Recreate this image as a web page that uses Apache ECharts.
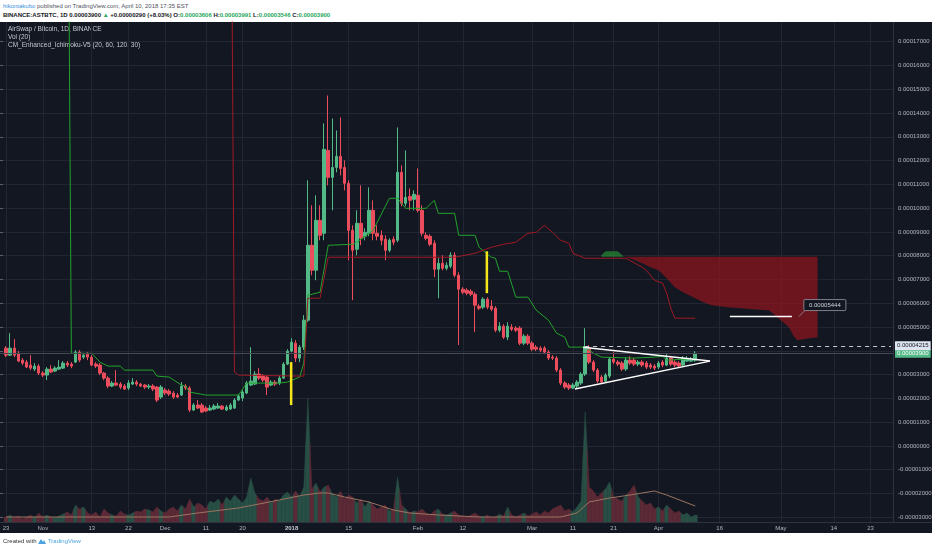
<!DOCTYPE html>
<html>
<head>
<meta charset="utf-8">
<script src="https://cdn.jsdelivr.net/npm/echarts@6/dist/echarts.min.js"></script>
<style>
  html, body { margin:0; padding:0; width:932px; height:550px; background:#ffffff; overflow:hidden; font-family:"Liberation Sans", Arial, sans-serif; }
  .hdr { position:absolute; left:3px; white-space:nowrap; font-size:6px; line-height:8px; }
  #h1 { top:2px; color:#50535e; }
  #h2 { top:11px; color:#131722; font-weight:bold; }
  .g { color:#26a65b; }
  #pane { position:absolute; left:0; top:22px; width:932px; height:511px; background:#131722; }
  #sepR { position:absolute; left:893px; top:22px; width:1px; height:500px; background:#2f3340; }
  #sepB { position:absolute; left:0; top:522px; width:932px; height:1px; background:#2f3340; }
  #chart { position:absolute; left:0; top:0; width:932px; height:550px; }
  #foot { position:absolute; left:3px; top:537px; font-size:6px; line-height:8px; color:#333; white-space:nowrap; }
</style>
</head>
<body>
<div id="h1" class="hdr"><span style="color:#3a8fd9">hikontakubo</span> published on TradingView.com, April 10, 2018 17:35 EST</div>
<div id="h2" class="hdr">BINANCE:ASTBTC, 1D 0.00003900 <span class="g">▲</span> +0.00000290 (+8.03%) O:<span class="g">0.00003606</span> H:<span class="g">0.00003991</span> L:<span class="g">0.00003546</span> C:<span class="g">0.00003900</span></div>
<div id="pane"></div><div id="sepR"></div><div id="sepB"></div>
<div id="chart"></div>
<div id="foot">Created with <svg width="8" height="6" viewBox="0 0 8 6" style="vertical-align:-1px"><path d="M0 6 L3 1 L5 4 L6 2 L8 6 Z" fill="#4aa3df"/></svg> <span style="color:#4aa3df">TradingView</span></div>
<script>
// ---------- categories / ticks ----------
const catStart = '2017-10-22';
const catCount = 219;
const firstCandle = '2017-10-23';
const tickDates = ['2017-10-23','2017-11-01','2017-11-13','2017-11-22','2017-12-01','2017-12-11','2017-12-20','2018-01-01','2018-01-15','2018-02-01','2018-02-12','2018-03-01','2018-03-11','2018-03-21','2018-04-01','2018-04-16','2018-05-01','2018-05-14','2018-05-23'];
const tickLabels = ['23','Nov','13','22','Dec','11','20','2018','15','Feb','12','Mar','11','21','Apr','16','May','14','23'];

// ---------- OHLC (satoshi) ----------
const openP = [4116,3822,4116,3906,3612,3528,3402,3234,3360,3066,
2982,3234,3150,3234,3276,3486,3444,3528,3948,3738,
3864,3738,3444,3402,3066,2856,2520,2646,2604,2520,
2436,2604,2688,2604,2562,2478,2520,2478,2058,2352,
2310,2226,2142,2142,2520,2436,1512,1722,1722,1596,
1512,1554,1596,1680,1512,1554,1596,1932,2016,2226,
2562,2604,3024,2940,2898,2562,2688,2646,2856,3444,
3990,4326,3696,4158,5292,8442,7392,9492,8946,12432,
11298,11718,12180,11718,11046,9072,8274,9366,8820,8946,
9912,8946,8862,8694,8232,8694,8652,11508,10206,10500,
10374,10542,9912,8862,8820,8526,7434,7686,7476,7560,
8022,7182,6594,6552,6510,6384,5880,5838,6174,5880,
5796,4872,5040,4578,4998,4956,4956,4326,4620,4326,
4158,4116,4116,3948,3738,3696,3192,2646,2562,2436,
2520,2646,3024,4116,3528,3192,2898,2730,2940,3654,
3528,3486,3234,3612,3612,3444,3528,3486,3402,3360,
3318,3528,3402,3696,3528,3486,3402,3570,3570,3606];
const closeP = [3822,4116,3822,3570,3486,3318,3276,3360,3066,2982,
3234,3108,3276,3318,3486,3402,3360,3948,3612,3822,
3738,3402,3360,3066,2856,2520,2646,2562,2478,2394,
2646,2688,2604,2520,2478,2520,2394,1932,2478,2226,
2184,2058,2058,2520,2436,1512,1722,1596,1428,1470,
1596,1680,1680,1554,1638,1722,1932,2100,2268,2646,
2730,3024,2856,2772,2478,2688,2604,2856,3444,3990,
4368,3696,4158,5292,8442,7392,9492,8862,12474,11298,
11718,12180,11676,11046,9072,8232,9366,8736,8988,9912,
8946,8820,8652,8232,8652,8568,11508,10206,10458,10332,
10584,9912,8946,8736,8484,7434,7686,7476,7602,8022,
7182,6594,6468,6426,6384,5922,5796,6174,5838,5754,
4872,5040,4578,5040,4914,4872,4326,4620,4326,4074,
4074,4032,3948,3696,3696,3192,2646,2478,2436,2562,
2688,3024,4158,3528,3192,2730,2688,2982,3654,3528,
3444,3234,3612,3486,3444,3528,3402,3318,3318,3276,
3486,3402,3696,3444,3402,3360,3696,3675,3610,3900];
const highP = [4200,4746,4494,3990,3696,3612,3822,3486,3444,3150,
3318,3402,3360,3612,3570,3570,3528,4032,4032,3906,
3948,3822,3528,3486,3108,2940,2730,3192,2688,2604,
2772,2856,2772,2646,2604,2604,2604,2520,2562,2436,
2394,2310,2226,2688,2604,2520,1806,1932,1806,1680,
1722,1764,1806,1722,1722,1806,2016,2184,2352,2730,
4158,3150,3276,3024,2982,2772,2772,2940,3528,4074,
4536,4452,4242,5502,11172,10122,10542,10122,13566,14742,
13776,13272,13818,12012,11172,9282,9912,10962,9156,10878,
10332,9282,9072,8862,8736,8820,13398,11802,12432,10836,
10752,11676,10122,8988,8904,8652,7896,8022,7728,8148,
8148,7308,6678,6636,6594,6468,5964,6258,6258,6132,
5880,5208,5124,5208,5124,5040,5040,4704,4704,4410,
4242,4200,4200,4032,3822,3780,3276,2730,2646,2646,
2772,3108,4956,4242,3612,3276,2982,3066,3738,3948,
3612,3570,3738,3780,3696,3612,3612,3570,3486,3444,
3570,3612,3864,3780,3612,3570,3780,3780,3738,3991];
const lowP = [3738,3780,3738,3528,3402,3276,3192,3150,2982,2898,
2772,3066,3108,3192,3234,3318,3276,3486,3528,3654,
3612,3360,3276,2982,2772,2436,2478,2520,2394,2352,
2352,2562,2520,2478,2394,2394,2310,1848,1974,2142,
2100,1974,2016,2100,2352,1428,1470,1554,1386,1428,
1470,1512,1554,1512,1470,1512,1554,1890,1890,2184,
2520,2562,2772,2688,2142,2520,2520,2562,2814,3402,
3948,3528,3528,4032,5208,7182,6972,8652,8652,10962,
9912,11508,11382,10752,7812,6132,8022,8442,8652,8820,
8652,8652,8442,7812,8148,8442,8568,10080,10080,9912,
9912,9828,8820,8652,8400,7098,6216,7392,7392,7476,
7098,4242,6384,6342,6300,4788,5712,5754,5754,5670,
4788,4788,4494,4452,4830,4788,4242,4242,4242,3990,
3990,3948,3864,3612,3612,3108,2562,2394,2352,2394,
2436,2562,2940,3444,3108,2646,2604,2646,2856,3444,
3360,3150,3150,3402,3360,3360,3318,3234,3234,3192,
3234,3318,3360,3360,3318,3276,3318,3528,3528,3546];

// ---------- Volume (relative units) and its 20-MA ----------
const volume = [5,7,4,6,3,5,7,4,9,5,7,
5,4,6,8,10,7,17,13,15,9,
7,10,5,13,9,7,6,11,8,7,
9,11,10,13,12,10,15,11,9,13,
15,11,17,13,23,15,19,17,13,21,
19,23,17,25,21,27,23,19,25,
44,
29,23,21,25,19,23,21,27,30,25,31,25,
35,124,33,39,30,35,37,28,25,31,23,27,25,19,23,15,21,17,13,15,17,11,13,
45,
17,13,9,11,10,13,9,7,11,13,8,7,9,11,7,6,5,7,9,6,5,7,4,5,8,6,15,7,5,
7,9,6,8,10,7,11,9,13,15,17,11,13,10,15,21,
110,
35,31,25,29,33,40,25,
23,21,27,31,37,25,21,
17,19,13,15,11,17,13,9,11,7,9,5,7];
const volMA = [[0,5],[40,5],[47,9],[57,14],[67,22],[73,27],[77,29],[79,29],[83,25],[89,20],[95,12],[99,9],[106,7],[116,5],[136,5],[140,9],[143,20],[148,24],[153,27],[159,31],[162,27],[169,16]];

// ---------- Ichimoku lines (day index from first candle, satoshi) ----------
const tenkan = [[0,30000],[15,30000],[16,3900],[21,3900],[23,3528],[25,3360],[28,3360],[29,3192],[36,3192],[37,2940],[40,2898],[43,2562],[44,2520],[45,2268],[49,2142],[57,2142],[59,2646],[67,2646],[69,2688],[72,2898],[73,3486],[74,6342],[77,6468],[79,8442],[85,8484],[86,8568],[90,9072],[94,10416],[96,10416],[98,9996],[103,9996],[105,10332],[106,9786],[110,9786],[111,8862],[115,8862],[116,8358],[119,7938],[120,7896],[121,7350],[123,7350],[125,6258],[128,6258],[130,5712],[133,5292],[135,4746],[137,4578],[138,4158],[142,4158],[144,3906],[146,3738],[154,3696],[159,3738],[161,3780],[162,3612],[167,3654],[169,3696]];
const kijun = [[0,30000],[55,30000],[56,3108],[57,2982],[72,2940],[73,2940],[74,6216],[77,6216],[79,7938],[110,7938],[115,8106],[119,8358],[122,8484],[125,8568],[128,8946],[130,8988],[132,9282],[134,8988],[136,8652],[138,8526],[139,8106],[142,7896],[152,7896],[156,7518],[157,7392],[159,6972],[161,6846],[162,6426],[163,5800],[164,5376],[169,5376]];
const cloudBullA = [[146,8020],[147,8190],[150,8190],[151.5,7960]];
const cloudBullB = [[146,7960],[151.5,7960]];
const cloudBearA = [[151.5,7960],[153,7896],[156,7686],[158,7518],[160,7392],[162,7056],[164,6678],[166,6468],[169,6216],[171,6048],[173,5922],[177,5838],[180,5796],[183,5754],[187,5712],[188,5586],[190,5292],[192,4998],[193,4662],[194,4452],[197,4536],[199,4578]];
const cloudBearB = [[151.5,7960],[199,7960]];

// ---------- drawings ----------
const triUpper = [[141.5,4158],[172.6,3570]];
const triLower = [[139.5,2394],[172.6,3570]];
const yellow1 = [[69.9,3528],[69.9,1722]];
const yellow2 = [[117.9,8190],[117.9,6426]];
const targetLine = [[177.5,5444],[192.7,5444]];
const targetLabel = '0.00005444';
const resistLevel = 4215;
const resistFrom = 142;
const lastPrice = 3900;

// ---------- build ----------
const categories = [];
const t0 = Date.UTC(2017, 9, 22);
for (let i = 0; i < catCount; i++) categories.push(new Date(t0 + i * 86400000).toISOString().slice(0, 10));
const OFF = categories.indexOf(firstCandle);
const tickMap = {};
tickDates.forEach((d, i) => { tickMap[d] = tickLabels[i]; });
const isTick = (idx, val) => Object.prototype.hasOwnProperty.call(tickMap, val);
const fmt = v => (v / 1e8).toFixed(8);

const UP = '#53b987', DOWN = '#eb4d5c';
const VOL_UP = '#284f45', VOL_DOWN = '#5c2a36';

const candleData = categories.map((c, i) => {
  const k = i - OFF;
  return (k >= 0 && k < openP.length) ? [openP[k], closeP[k], lowP[k], highP[k]] : '-';
});
const shift = arr => arr.map(p => [p[0] + OFF, p[1]]);

function pt(api, d, v) {
  const x = d + OFF;
  const i = Math.floor(x);
  const f = x - i;
  const a = api.coord([i, v]);
  if (!f) return a;
  const b = api.coord([i + 1, v]);
  return [a[0] + f * (b[0] - a[0]), a[1]];
}
function polySeries(upper, lower, color) {
  return {
    type: 'custom', xAxisIndex: 0, yAxisIndex: 0, z: 2, silent: true, clip: true, animation: false,
    data: [[OFF, 0]],
    renderItem(params, api) {
      const pts = upper.map(p => pt(api, p[0], p[1]))
        .concat(lower.slice().reverse().map(p => pt(api, p[0], p[1])));
      return { type: 'polygon', shape: { points: pts }, style: { fill: color } };
    }
  };
}
function segSeries(pts, color, width) {
  return {
    type: 'custom', xAxisIndex: 0, yAxisIndex: 0, z: 6, silent: true, clip: true, animation: false,
    data: [[OFF, 0]],
    renderItem(params, api) {
      return { type: 'polyline', shape: { points: pts.map(p => pt(api, p[0], p[1])) },
        style: { stroke: color, lineWidth: width, fill: null } };
    }
  };
}

const chart = echarts.init(document.getElementById('chart'), null, { renderer: 'canvas' });
const option = {
  backgroundColor: 'transparent',
  animation: false,
  textStyle: { fontFamily: '"Liberation Sans", Arial, sans-serif' },
  grid: [
    { left: 0, right: 39, top: 22, bottom: 28, containLabel: false, outerBoundsMode: 'none' },
    { left: 0, right: 39, top: 41.7, bottom: 32.7, containLabel: false, outerBoundsMode: 'none' }
  ],
  xAxis: [
    { type: 'category', gridIndex: 0, data: categories, boundaryGap: true,
      axisLine: { show: false },
      axisTick: { show: false, alignWithLabel: true, interval: isTick },
      axisLabel: { interval: isTick, color: '#b2b5be', fontSize: 6, margin: 3,
        formatter: v => tickMap[v] === '2018' ? '{b|2018}' : (tickMap[v] || ''),
        rich: { b: { fontWeight: 'bold', fontSize: 6, color: '#c8cbd3' } } },
      splitLine: { show: true, alignWithLabel: true, interval: isTick, lineStyle: { color: '#222632', width: 1 } } },
    { type: 'value', gridIndex: 1, show: false, min: 0, max: 1 }
  ],
  yAxis: [
    { type: 'value', gridIndex: 0, min: -3196, max: 17832, show: false, splitLine: { show: false } },
    { type: 'value', gridIndex: 0, min: 0, max: 500, show: false, splitLine: { show: false } },
    { type: 'value', gridIndex: 1, position: 'right', min: -3000, max: 17000, interval: 1000,
      axisLine: { show: false },
      axisTick: { show: true, length: 3, lineStyle: { color: '#5d606b' } },
      axisLabel: { color: '#b2b5be', fontSize: 6, margin: 5, formatter: fmt },
      splitLine: { show: true, lineStyle: { color: '#222632', width: 1 } } }
  ],
  graphic: [
    { type: 'text', left: 8, top: 26, style: { text: 'AirSwap / Bitcoin, 1D, BINANCE', fill: '#c5c8d0', font: '6.5px "Liberation Sans", Arial' } },
    { type: 'text', left: 8, top: 34, style: { text: 'Vol (20)', fill: '#c5c8d0', font: '6.5px "Liberation Sans", Arial' } },
    { type: 'text', left: 8, top: 42, style: { text: 'CM_Enhanced_Ichimoku-V5 (20, 60, 120, 30)', fill: '#c5c8d0', font: '6.5px "Liberation Sans", Arial' } }
  ],
  series: [
    { // volume area
      type: 'custom', name: 'Vol', xAxisIndex: 0, yAxisIndex: 1, z: 1, silent: true, clip: true,
      data: volume.map((v, k) => [k + OFF, v]),
      renderItem(params, api) {
        const k = params.dataIndex;
        const x = k + OFF;
        const cur = api.coord([x, volume[k]]);
        const base = api.coord([x, 0])[1];
        const half = api.size([1, 0])[0] / 2;
        const prev = k > 0 ? api.coord([x - 1, volume[k - 1]]) : null;
        const next = k < volume.length - 1 ? api.coord([x + 1, volume[k + 1]]) : null;
        const lm = prev ? [(prev[0] + cur[0]) / 2, (prev[1] + cur[1]) / 2] : [cur[0] - half, cur[1]];
        const rm = next ? [(next[0] + cur[0]) / 2, (next[1] + cur[1]) / 2] : [cur[0] + half, cur[1]];
        const c = closeP[k] >= openP[k] ? VOL_UP : VOL_DOWN;
        return { type: 'polygon', shape: { points: [lm, cur, rm, [rm[0], base], [lm[0], base]] },
          style: { fill: c, stroke: c, lineWidth: 0.5 } };
      }
    },
    { type: 'line', name: 'Vol MA', xAxisIndex: 0, yAxisIndex: 1, z: 2, data: shift(volMA),
      showSymbol: false, silent: true, lineStyle: { color: '#9c7462', width: 1 } },
    polySeries(cloudBullA, cloudBullB, 'rgba(40,150,55,0.65)'),
    polySeries(cloudBearA, cloudBearB, 'rgba(150,20,28,0.68)'),
    { type: 'candlestick', name: 'ASTBTC', xAxisIndex: 0, yAxisIndex: 0, z: 3, data: candleData,
      barWidth: 3, clip: true, silent: true,
      itemStyle: { color: UP, color0: DOWN, borderColor: UP, borderColor0: DOWN, borderWidth: 1 },
      markLine: {
        symbol: ['none', 'none'], silent: true, animation: false,
        data: [
          { yAxis: lastPrice, lineStyle: { color: '#454956', width: 1, type: 'solid' },
            label: { show: true, position: 'end', formatter: fmt(lastPrice), backgroundColor: '#53b987',
              color: '#ffffff', fontSize: 6, padding: [2, 2, 1, 2], distance: 2 } },
          [ { coord: [resistFrom + OFF, resistLevel], lineStyle: { color: '#c8cbd3', width: 1, type: [4, 4] },
              label: { show: true, position: 'end', formatter: fmt(resistLevel), backgroundColor: '#dde5f0',
                color: '#131722', fontSize: 6, padding: [2, 2, 1, 2], distance: 4 } },
            { coord: [catCount - 1, resistLevel] } ]
        ]
      }
    },
    { type: 'line', name: 'Tenkan', xAxisIndex: 0, yAxisIndex: 0, z: 4, data: shift(tenkan),
      showSymbol: false, silent: true, clip: true, lineStyle: { color: '#22a32c', width: 1 } },
    { type: 'line', name: 'Kijun', xAxisIndex: 0, yAxisIndex: 0, z: 4, data: shift(kijun),
      showSymbol: false, silent: true, clip: true, lineStyle: { color: '#a01a24', width: 1 } },
    segSeries(triUpper, '#ffffff', 1.5),
    segSeries(triLower, '#ffffff', 1.5),
    segSeries(yellow1, '#f6e51c', 2.5),
    segSeries(yellow2, '#f6e51c', 2.5),
    { // target line with callout
      type: 'custom', xAxisIndex: 0, yAxisIndex: 0, z: 6, silent: true, clip: false,
      data: [[OFF, 0]],
      renderItem(params, api) {
        const a = pt(api, targetLine[0][0], targetLine[0][1]);
        const b = pt(api, targetLine[1][0], targetLine[1][1]);
        return { type: 'group', children: [
          { type: 'line', shape: { x1: a[0], y1: a[1], x2: b[0], y2: b[1] }, style: { stroke: '#ffffff', lineWidth: 1.5 } },
          { type: 'line', shape: { x1: b[0] + 7, y1: b[1], x2: b[0] + 13, y2: b[1] - 6 }, style: { stroke: '#9598a1', lineWidth: 0.8 } },
          { type: 'rect', shape: { x: b[0] + 12, y: b[1] - 17, width: 42, height: 11, r: 1 },
            style: { fill: '#131722', stroke: '#9598a1', lineWidth: 0.8 } },
          { type: 'text', x: b[0] + 33, y: b[1] - 11.5,
            style: { text: targetLabel, fill: '#d1d4dc', font: '6px "Liberation Sans", Arial', align: 'center', verticalAlign: 'middle' } }
        ] };
      }
    }
  ]
};
chart.setOption(option);
</script>
</body>
</html>
